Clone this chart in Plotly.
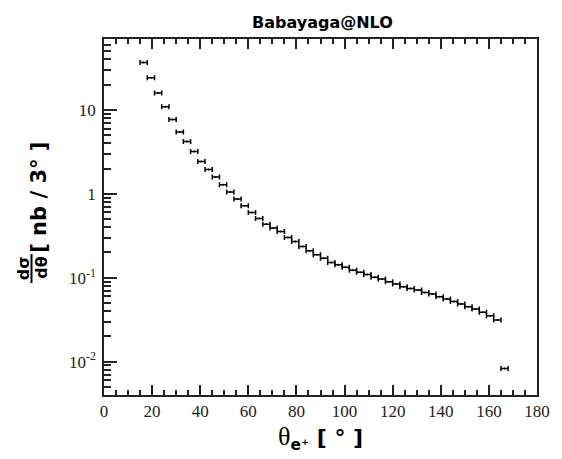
import plotly.graph_objects as go

theta = [16.5 + 3 * i for i in range(51)]
dsigma = [36.6, 24.2, 15.9, 10.9, 7.67, 5.47, 4.20, 3.19, 2.42, 1.95,
          1.59, 1.28, 1.05, 0.865, 0.72, 0.60, 0.508, 0.435, 0.39,
          0.356, 0.302, 0.271, 0.236, 0.210, 0.188, 0.171, 0.152, 0.143,
          0.133, 0.123, 0.116, 0.109, 0.101, 0.0965, 0.0896, 0.0841,
          0.0781, 0.0746, 0.0713, 0.0668, 0.0640, 0.0594, 0.0557, 0.0522,
          0.0486, 0.0452, 0.0424, 0.0387, 0.0353, 0.0313, 0.0083]
half_bin = [1.5] * len(theta)

ytickvals = [0.01, 0.1, 1, 10]
yticktext = ["10<sup>-2</sup>", "10<sup>-1</sup>", "1", "10"]
yminorvals = [m * d for d in [0.001, 0.01, 0.1, 1, 10] for m in range(2, 10)]
xtickvals = list(range(0, 181, 20))

L, R, T, B = 104, 13, 39, 64
W, H = 562, 459
PW, PH = W - L - R, H - T - B

def px(x):
    return (x - L) / PW

def py(y):
    return (H - B - y) / PH

fig = go.Figure()
fig.add_trace(go.Scatter(
    x=theta, y=dsigma, mode="markers",
    marker=dict(size=2, color="black"),
    error_x=dict(type="data", array=half_bin, visible=True,
                 color="black", thickness=1.5, width=2.5),
    showlegend=False,
))

axis_common = dict(showline=True, linecolor="#222", linewidth=1.5,
                   ticks="inside", tickcolor="#222", tickwidth=1.5,
                   showgrid=False, zeroline=False,
                   tickfont=dict(family="Liberation Serif", size=17, color="#222"))

fig.update_xaxes(range=[0, 180], tickvals=xtickvals, ticklen=10, mirror="ticks",
                 ticklabelstandoff=0,
                 minor=dict(dtick=5, ticks="inside", ticklen=5, tickcolor="#222",
                            tickwidth=1.5, showgrid=False),
                 **axis_common)
fig.update_yaxes(type="log", range=[-2.398, 1.845], tickvals=ytickvals,
                 ticktext=yticktext, ticklen=13, mirror=True, ticklabelstandoff=3,
                 minor=dict(tickvals=yminorvals, ticks="inside", ticklen=7,
                            tickcolor="#222", tickwidth=1.5, showgrid=False),
                 **axis_common)

ann = []
ann.append(dict(text="<b>Babayaga@NLO</b>", x=px(329), y=py(22), xref="paper", yref="paper",
                showarrow=False, xanchor="center", yanchor="middle",
                font=dict(family="DejaVu Sans", size=16, color="black")))
ann.append(dict(text="<span style='font-family:Liberation Serif;font-size:26px'>θ</span><b><sub>e⁺</sub> [ ° ]</b>",
                x=px(327), y=py(438), xref="paper", yref="paper",
                showarrow=False, xanchor="center", yanchor="middle",
                font=dict(family="DejaVu Sans", size=22, color="black")))
ann.append(dict(text="<b>[ nb / 3° ]</b>", x=px(37), y=py(197), xref="paper", yref="paper",
                showarrow=False, xanchor="center", yanchor="middle", textangle=-90,
                font=dict(family="DejaVu Sans", size=21, color="black")))
ann.append(dict(text="<b>dσ</b>", x=px(21), y=py(268), xref="paper", yref="paper",
                showarrow=False, xanchor="center", yanchor="middle", textangle=-90,
                font=dict(family="DejaVu Sans", size=16, color="black")))
ann.append(dict(text="<b>dθ</b>", x=px(39), y=py(268), xref="paper", yref="paper",
                showarrow=False, xanchor="center", yanchor="middle", textangle=-90,
                font=dict(family="DejaVu Sans", size=16, color="black")))

fig.add_shape(type="line", xref="paper", yref="paper",
              x0=px(29.5), x1=px(29.5), y0=py(254), y1=py(283),
              line=dict(color="black", width=2))

fig.update_layout(width=W, height=H, margin=dict(l=L, r=R, t=T, b=B),
                  paper_bgcolor="white", plot_bgcolor="white",
                  annotations=ann)

fig.write_html("out.html")
